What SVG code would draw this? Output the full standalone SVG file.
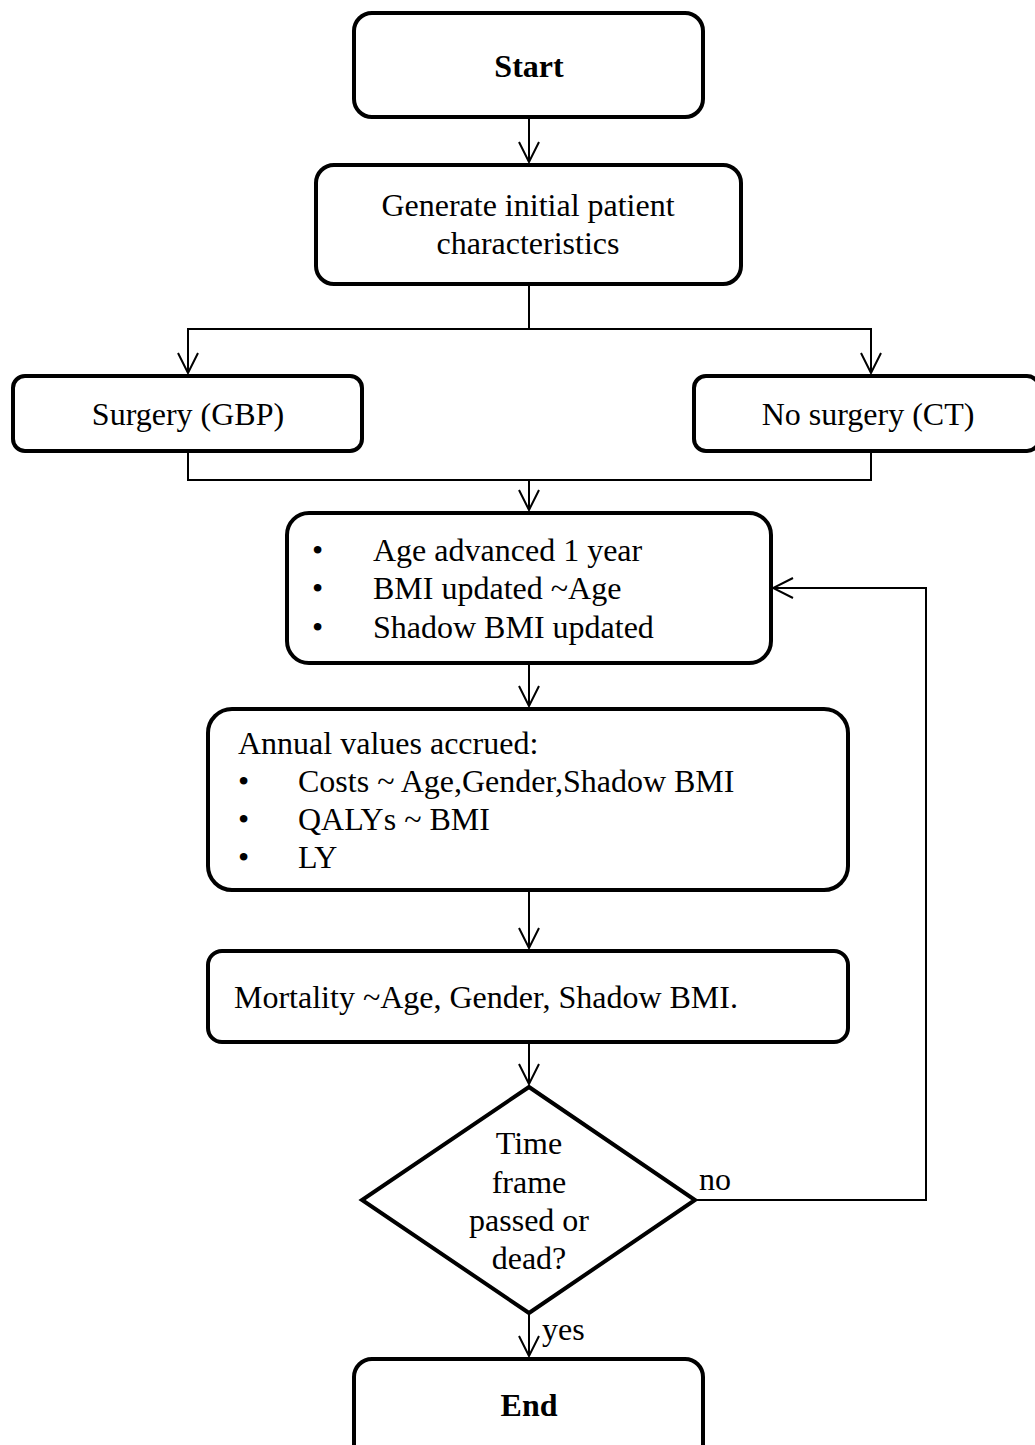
<svg xmlns="http://www.w3.org/2000/svg" width="1035" height="1445" viewBox="0 0 1035 1445">
<style>
.box{fill:#fff;stroke:#000;stroke-width:4}
.t{font-family:"Liberation Serif","Times New Roman",serif;font-size:32px;fill:#000}
.b{font-weight:bold}
.c{text-anchor:middle}
.ln{fill:none;stroke:#000;stroke-width:2}
</style>
<defs>
<marker id="ah" markerUnits="userSpaceOnUse" markerWidth="24" markerHeight="24" viewBox="-22 -12 24 24" refX="0" refY="0" orient="auto-start-reverse">
<polyline points="-20,-10 0,0 -20,10" fill="none" stroke="#000" stroke-width="2"/>
</marker>
</defs>
<rect width="1035" height="1445" fill="#fff"/>
<g id="connectors">
<line class="ln" x1="529" y1="117" x2="529" y2="162" marker-end="url(#ah)"/>
<polyline class="ln" points="529,284 529,329"/>
<polyline class="ln" points="188,373 188,329 871,329 871,373" marker-start="url(#ah)" marker-end="url(#ah)"/>
<polyline class="ln" points="188,451 188,480 871,480 871,451"/>
<line class="ln" x1="529" y1="480" x2="529" y2="510" marker-end="url(#ah)"/>
<line class="ln" x1="529" y1="663" x2="529" y2="706" marker-end="url(#ah)"/>
<line class="ln" x1="529" y1="890" x2="529" y2="948" marker-end="url(#ah)"/>
<line class="ln" x1="529" y1="1042" x2="529" y2="1084" marker-end="url(#ah)"/>
<line class="ln" x1="529" y1="1314" x2="529" y2="1356" marker-end="url(#ah)"/>
<polyline class="ln" points="696,1200 926,1200 926,588 773,588" marker-end="url(#ah)"/>
<text class="t" x="699" y="1190">no</text>
<text class="t" x="542" y="1340">yes</text>
</g>
<g id="start">
<rect class="box" x="354" y="13" width="349" height="104" rx="18"/>
<text class="t b c" x="529" y="77">Start</text>
</g>
<g id="generate">
<rect class="box" x="316" y="165" width="425" height="119" rx="18"/>
<text class="t c" x="528" y="216">Generate initial  patient</text>
<text class="t c" x="528" y="254">characteristics</text>
</g>
<g id="surgery">
<rect class="box" x="13" y="376" width="349" height="75" rx="12"/>
<text class="t c" x="188" y="425">Surgery (GBP)</text>
</g>
<g id="nosurgery">
<rect class="box" x="694" y="376" width="345" height="75" rx="12"/>
<text class="t c" x="868" y="425">No surgery (CT)</text>
</g>
<g id="age">
<rect class="box" x="287" y="513" width="484" height="150" rx="22"/>
<text class="t" x="312" y="561">•</text>
<text class="t" x="373" y="561">Age advanced 1 year</text>
<text class="t" x="312" y="599">•</text>
<text class="t" x="373" y="599">BMI updated ~Age</text>
<text class="t" x="312" y="638">•</text>
<text class="t" x="373" y="638">Shadow BMI updated</text>
</g>
<g id="annual">
<rect class="box" x="208" y="709" width="640" height="181" rx="24"/>
<text class="t" x="238" y="754">Annual values accrued:</text>
<text class="t" x="238" y="792">•</text>
<text class="t" x="298" y="792">Costs ~ Age,Gender,Shadow BMI</text>
<text class="t" x="238" y="830">•</text>
<text class="t" x="298" y="830">QALYs ~ BMI</text>
<text class="t" x="238" y="868">•</text>
<text class="t" x="298" y="868">LY</text>
</g>
<g id="mortality">
<rect class="box" x="208" y="951" width="640" height="91" rx="14"/>
<text class="t" x="234" y="1008">Mortality ~Age, Gender, Shadow BMI.</text>
</g>
<g id="decision">
<polygon class="box" points="529,1087 695,1200 529,1313 362,1200"/>
<text class="t c" x="529" y="1154">Time</text>
<text class="t c" x="529" y="1193">frame</text>
<text class="t c" x="529" y="1231">passed or</text>
<text class="t c" x="529" y="1269">dead?</text>
</g>
<g id="end">
<rect class="box" x="354" y="1359" width="349" height="104" rx="18"/>
<text class="t b c" x="529" y="1416">End</text>
</g>
</svg>
